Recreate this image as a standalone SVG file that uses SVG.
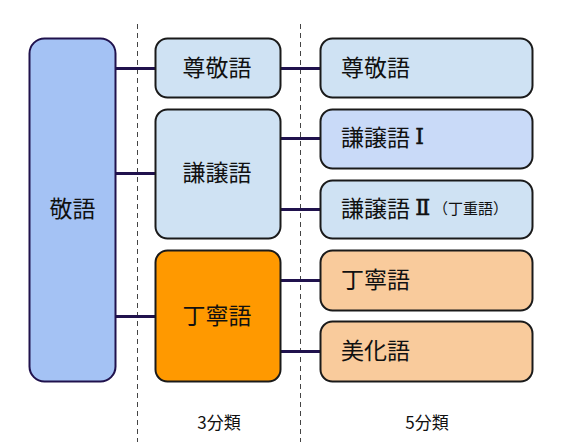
<svg xmlns="http://www.w3.org/2000/svg" width="562" height="448" viewBox="0 0 562 448">
<style>
text{font-family:"Noto Sans CJK JP","Noto Sans",sans-serif;fill:#111;}
.lbl{font-size:23px;}
.mid{text-anchor:middle;dominant-baseline:central;}
.lft{dominant-baseline:central;}
.box{stroke:#1a1a1a;stroke-width:2;}
.blue{fill:#cfe2f3;}
.blue2{fill:#c9daf8;}
.org{fill:#f9cb9c;}
.conn line{stroke:#20124d;stroke-width:3;}
.guide{stroke:#444;stroke-width:1;stroke-dasharray:5,4;}
.num{font-family:"DejaVu Serif","Liberation Serif",serif;font-size:22px;stroke:#111;stroke-width:0.5;}
.small{font-size:15px;}
.cap{font-size:17px;text-anchor:middle;dominant-baseline:central;}
</style>
<rect width="562" height="448" fill="#fff"/>
<g id="guides">
<line class="guide" x1="137.5" y1="24" x2="137.5" y2="442"/>
<line class="guide" x1="300.5" y1="24" x2="300.5" y2="442"/>
</g>
<g class="conn" id="connectors">
<line x1="115" y1="68.5" x2="155" y2="68.5"/>
<line x1="115" y1="173.5" x2="155" y2="173.5"/>
<line x1="115" y1="316.5" x2="155" y2="316.5"/>
<line x1="281" y1="68.5" x2="320" y2="68.5"/>
<line x1="281" y1="138.5" x2="320" y2="138.5"/>
<line x1="281" y1="209.5" x2="320" y2="209.5"/>
<line x1="281" y1="280.5" x2="320" y2="280.5"/>
<line x1="277" y1="351.5" x2="320" y2="351.5"/>
</g>
<g id="keigo">
<rect x="29.5" y="38.5" width="86" height="343" rx="15" fill="#a4c2f4" stroke="#20124d" stroke-width="2"/>
<text class="lbl mid" x="72.5" y="207">敬語</text>
</g>
<g id="sonkeigo3">
<rect class="box blue" x="155.5" y="38.5" width="125" height="59" rx="12"/>
<text class="lbl mid" x="217" y="66">尊敬語</text>
</g>
<g id="kenjougo3">
<rect class="box blue" x="155.5" y="109.5" width="125" height="129" rx="12"/>
<text class="lbl mid" x="217" y="171">謙譲語</text>
</g>
<g id="teineigo3">
<rect class="box" x="155.5" y="250.5" width="125" height="131" rx="12" fill="#ff9900"/>
<text class="lbl mid" x="217" y="313.5">丁寧語</text>
</g>
<g id="sonkeigo5">
<rect class="box blue" x="320.5" y="38.5" width="212" height="59" rx="12"/>
<text class="lbl lft" x="341" y="66">尊敬語</text>
</g>
<g id="kenjougo1">
<rect class="box blue2" x="320.5" y="109.5" width="212" height="59" rx="12"/>
<text class="lbl lft" x="341" y="136">謙譲語 <tspan class="num">Ⅰ</tspan></text>
</g>
<g id="kenjougo2">
<rect class="box blue" x="320.5" y="180.5" width="212" height="58" rx="12"/>
<text class="lbl lft" x="341" y="207">謙譲語 <tspan class="num">Ⅱ</tspan><tspan class="small" dx="3">（丁重語）</tspan></text>
</g>
<g id="teineigo5">
<rect class="box org" x="320.5" y="250.5" width="212" height="60" rx="12"/>
<text class="lbl lft" x="341" y="278">丁寧語</text>
</g>
<g id="bikago">
<rect class="box org" x="320.5" y="321.5" width="212" height="60" rx="12"/>
<text class="lbl lft" x="341" y="349">美化語</text>
</g>
<g id="captions">
<text class="cap" x="219" y="421">3分類</text>
<text class="cap" x="427" y="421">5分類</text>
</g>
</svg>
